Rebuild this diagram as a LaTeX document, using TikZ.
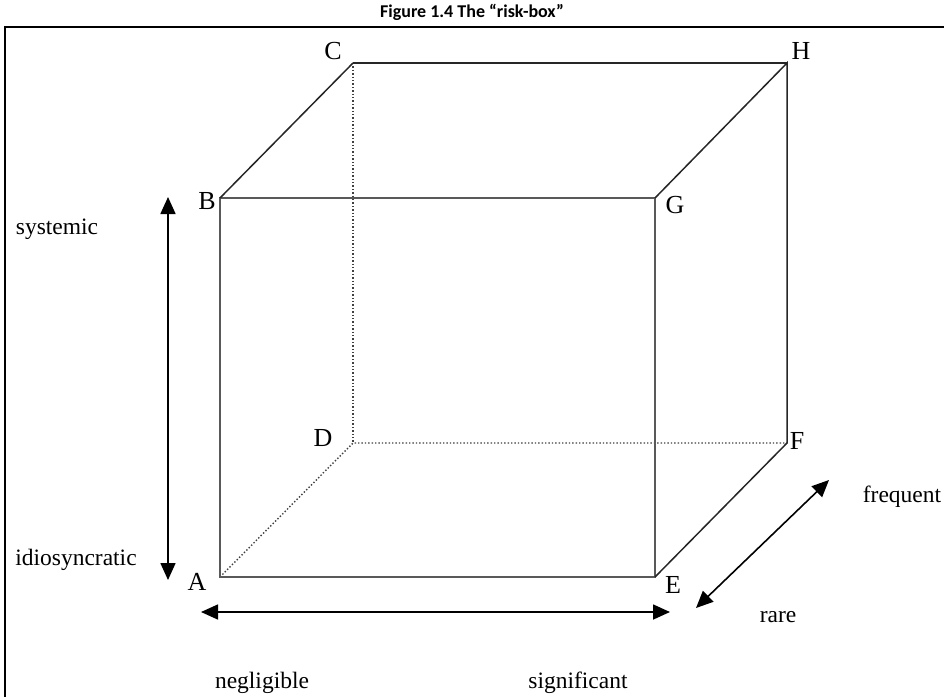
\documentclass[tikz,border=0pt]{standalone}
\usepackage{fontspec}
\setmainfont{Liberation Serif}
\newfontfamily\titlefont{Carlito}
\usetikzlibrary{arrows.meta}
\tikzset{
  lbl/.style={inner sep=0pt, font=\fontsize{23.5}{28}\selectfont},
  corner/.style={inner sep=0pt, font=\fontsize{26}{30}\selectfont},
  front/.style={draw=black!65, line width=1.9pt},
  back/.style={draw=black!85, line width=1.5pt},
  hidden/.style={draw=black!75, line width=1.4pt, dotted},
  axis/.style={line width=1.6pt, {Triangle[length=17pt,width=15pt]}-{Triangle[length=17pt,width=15pt]}}
}
\begin{document}
\begin{tikzpicture}[x=1pt,y=-1pt]
  \useasboundingbox (0,0) rectangle (944,696);
  \node[font=\titlefont\bfseries\fontsize{18}{21}\selectfont] (title) at (472,12) {Figure 1.4 The \textquotedblleft risk-box\textquotedblright};
  \draw[line width=1.8pt] (5,700) -- (5,27) -- (950,27);
  % corners of the box
  \coordinate (a) at (220,577);
  \coordinate (e) at (655,577);
  \coordinate (b) at (220,198);
  \coordinate (g) at (655,198);
  \coordinate (c) at (353,63);
  \coordinate (h) at (787,63);
  \coordinate (d) at (353,443);
  \coordinate (f) at (787,443);
  \draw[hidden] (a) -- (d) -- (f);
  \draw[hidden] (c) -- (d);
  \draw[front] (a) rectangle (g);
  \draw[back] (b) -- (c);
  \draw[back, line width=2pt] (c) -- (h);
  \draw[back] (g) -- (h) -- (f) -- (e);
  \node[corner] (la) at (197,582) {A};
  \node[corner] (lb) at (207,201) {B};
  \node[corner] (lc) at (333,51) {C};
  \node[corner] (ld) at (323,438) {D};
  \node[corner] (le) at (673,585) {E};
  \node[corner] (lf) at (797,441) {F};
  \node[corner] (lg) at (675,205) {G};
  \node[corner] (lh) at (801,51) {H};
  % the three scales
  \coordinate (v1) at (168,197);
  \coordinate (v2) at (168,580);
  \coordinate (h1) at (201,612);
  \coordinate (h2) at (670,612);
  \coordinate (d1) at (696,608);
  \coordinate (d2) at (829,480);
  \draw[axis] (v1) -- (v2);
  \draw[axis] (h1) -- (h2);
  \draw[axis] (d1) -- (d2);
  \node[lbl] (sys) at (57,229) {systemic};
  \node[lbl] (idio) at (76,560) {idiosyncratic};
  \node[lbl] (negl) at (262,683) {negligible};
  \node[lbl] (sign) at (578,683) {significant};
  \node[lbl] (freq) at (902,497) {frequent};
  \node[lbl] (rare) at (778,617) {rare};
\end{tikzpicture}
\end{document}
